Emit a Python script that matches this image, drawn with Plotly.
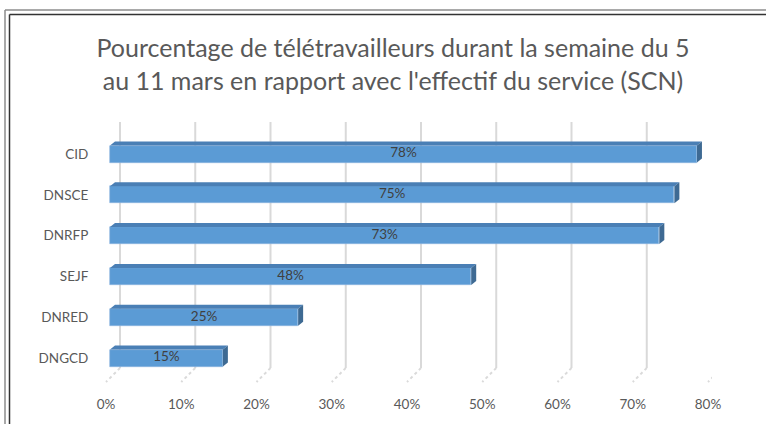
import plotly.graph_objects as go

# ---- data ----
categories = ["DNGCD", "DNRED", "SEJF", "DNRFP", "DNSCE", "CID"]
values = [0.15, 0.25, 0.48, 0.73, 0.75, 0.78]
tick_values = [0, 0.1, 0.2, 0.3, 0.4, 0.5, 0.6, 0.7, 0.8]
tick_labels = ["0%", "10%", "20%", "30%", "40%", "50%", "60%", "70%", "80%"]
title_text = ("Pourcentage de télétravailleurs durant la semaine du 5<br>"
              "au 11 mars en rapport avec l'effectif du service (SCN)")

# ---- layout geometry (pixels) ----
W, H = 766, 424
ZERO = 110                    # pixel of value 0 (front face)
L, R, T, B = 96, 712, 122, 382
PX_X = 752.5                  # pixels per unit of x
x_min = -(ZERO - L) / PX_X
x_max = (R - ZERO) / PX_X
ROW = 40.8                    # pixels per category step
y_bottom = -(B - 358) / ROW
y_top = (358 - T) / ROW
bar_w = 17 / ROW
dx = 5 / PX_X                 # 3D depth offsets
dy = 4 / ROW
back_dx = 10 / PX_X

pos = list(range(len(categories)))

def px2paper_x(px):
    return (px - L) / (R - L)

def px2paper_y(py):
    return (B - py) / (B - T)

FONT = "Lato"
GREY = "#595959"

fig = go.Figure()

# front faces
fig.add_trace(go.Bar(
    x=values, y=pos, orientation="h", width=bar_w,
    marker=dict(color="#5B9BD5", line=dict(color="#8DB6E0", width=0.6)),
    hoverinfo="x+y", showlegend=False,
))

shapes = []
# back-wall gridlines + floor diagonals
for v in tick_values:
    xb = v + back_dx
    shapes.append(dict(type="line", xref="x", yref="paper",
                       x0=xb, x1=xb, y0=px2paper_y(368), y1=1,
                       line=dict(color="#D9D9D9", width=2), layer="below"))
    shapes.append(dict(type="line", xref="x", yref="paper",
                       x0=xb, x1=v - 4 / PX_X, y0=px2paper_y(368), y1=0,
                       line=dict(color="#DADADA", width=2, dash="dot"), layer="below"))

# top and side faces of the 3D bars
for p, v in zip(pos, values):
    yt = p + bar_w / 2
    yb = p - bar_w / 2
    shapes.append(dict(type="path", xref="x", yref="y",
                       path=f"M 0 {yt} L {v} {yt} L {v+dx} {yt+dy} L {dx} {yt+dy} Z",
                       fillcolor="#4A7FB5", line=dict(width=0), layer="above"))
    shapes.append(dict(type="path", xref="x", yref="y",
                       path=f"M {v} {yt} L {v+dx} {yt+dy} L {v+dx} {yb+dy} L {v} {yb} Z",
                       fillcolor="#3E6A93", line=dict(width=0), layer="above"))

# chart frame (double line)
for xp, yp, col in [(5, 10, "#8C8C8C"), (9.5, 14.5, "#333333")]:
    shapes.append(dict(type="line", xref="paper", yref="paper",
                       x0=px2paper_x(xp), x1=px2paper_x(xp),
                       y0=px2paper_y(yp), y1=px2paper_y(450),
                       line=dict(color=col, width=1.5)))
    shapes.append(dict(type="line", xref="paper", yref="paper",
                       x0=px2paper_x(xp), x1=px2paper_x(800),
                       y0=px2paper_y(yp), y1=px2paper_y(yp),
                       line=dict(color=col, width=1.5)))

# data labels
fig.add_trace(go.Scatter(
    x=[v / 2 for v in values], y=pos, mode="text",
    text=[f"{round(v*100)}%" for v in values],
    textfont=dict(family=FONT, size=13.5, color="#404040"),
    hoverinfo="skip", showlegend=False,
))

fig.update_layout(
    width=W, height=H,
    margin=dict(l=L, r=W - R, t=T, b=H - B, pad=0),
    paper_bgcolor="white", plot_bgcolor="white",
    title=dict(text=title_text, x=393 / W, xanchor="center", xref="container",
               y=1 - 57 / H, yanchor="middle", yref="container",
               font=dict(family=FONT, size=25, color=GREY)),
    shapes=shapes,
    bargap=0,
    xaxis=dict(range=[x_min, x_max], showgrid=False, zeroline=False, showline=False,
               tickvals=[v - 4 / PX_X for v in tick_values], ticktext=tick_labels,
               ticks="outside", ticklen=10, tickcolor="rgba(0,0,0,0)",
               tickfont=dict(family=FONT, size=13.5, color=GREY)),
    yaxis=dict(range=[y_bottom, y_top], showgrid=False, zeroline=False, showline=False,
               tickvals=pos, ticktext=categories,
               ticks="outside", ticklen=4, tickcolor="rgba(0,0,0,0)",
               tickfont=dict(family=FONT, size=13.5, color=GREY)),
    font=dict(family=FONT),
)

fig.write_html("out.html", config={"displayModeBar": False},
               post_script="document.body.style.margin='0';document.body.style.padding='0';")
